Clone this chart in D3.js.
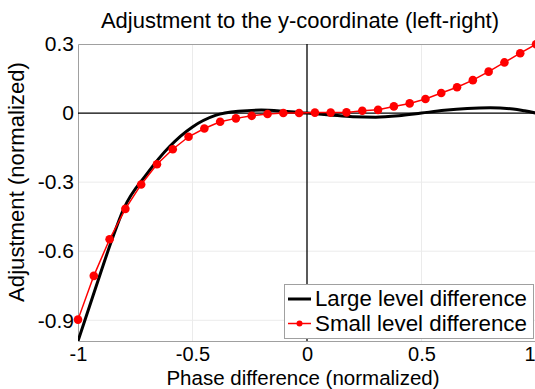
<!DOCTYPE html>
<html>
<head>
<meta charset="utf-8">
<script src="https://cdn.jsdelivr.net/npm/d3@7"></script>
<style>
  html, body { margin: 0; padding: 0; background: #fff; }
  svg { display: block; font-family: "Liberation Sans", Arial, sans-serif; }
</style>
</head>
<body>
<svg id="chart" width="535" height="389"></svg>
<script>
// ---- data ----
const titleText = "Adjustment to the y-coordinate (left-right)";
const xLabel = "Phase difference (normalized)";
const yLabel = "Adjustment (normalized)";
const seriesNames = ["Large level difference", "Small level difference"];

// Large level difference (smooth black curve)
const largeX = [-1.0, -0.95, -0.9, -0.85, -0.8, -0.7, -0.6, -0.5, -0.4, -0.3, -0.2, -0.1, 0.0, 0.1, 0.2, 0.3, 0.4, 0.5, 0.6, 0.7, 0.8, 0.9, 0.95, 1.0];
const largeY = [-0.99, -0.84, -0.69, -0.545, -0.415, -0.265, -0.145, -0.06, -0.01, 0.008, 0.013, 0.008, 0.0, -0.008, -0.016, -0.018, -0.012, 0.0, 0.012, 0.02, 0.023, 0.018, 0.01, 0.0];

// Small level difference (red markers), 30 evenly spaced samples from -1 to 1
const smallX = d3.range(30).map(k => -1 + k * 2 / 29);
const smallY = [-0.897, -0.707, -0.548, -0.416, -0.310, -0.222, -0.157, -0.103, -0.067, -0.038,
                -0.023, -0.012, -0.004, 0.0, 0.0, 0.002, 0.002, 0.003, 0.010, 0.014,
                0.029, 0.042, 0.061, 0.087, 0.112, 0.143, 0.180, 0.220, 0.260, 0.299];

const xTicks = [-1, -0.5, 0, 0.5, 1];
const yTicks = [0.3, 0, -0.3, -0.6, -0.9];
const xTickLabels = ["-1", "-0.5", "0", "0.5", "1"];
const yTickLabels = ["0.3", "0", "-0.3", "-0.6", "-0.9"];

// ---- layout ----
const svg = d3.select("#chart");
const M = { left: 78, top: 44, right: 536, bottom: 341 };
const FONT = "Liberation Sans, Arial, sans-serif";

const x = d3.scaleLinear().domain([-1, 1]).range([M.left, M.right]);
const y = d3.scaleLinear().domain([-0.99, 0.3]).range([M.bottom, M.top]);

// fit a text element's font size so its rendered width matches a target width
function fitWidth(sel, target, base) {
  sel.attr("font-size", base);
  const w = sel.node().getComputedTextLength();
  if (w > 0) sel.attr("font-size", (base * target / w).toFixed(2));
  return sel;
}

svg.append("defs").append("clipPath").attr("id", "clip")
  .append("rect").attr("x", M.left).attr("y", M.top)
  .attr("width", M.right - M.left).attr("height", M.bottom - M.top);

// grid
const grid = svg.append("g");
grid.selectAll("line.gx").data(xTicks.filter(t => t !== 0 && t !== -1 && t !== 1)).join("line")
  .attr("x1", d => x(d)).attr("x2", d => x(d)).attr("y1", M.top).attr("y2", M.bottom)
  .attr("stroke", "#ebebeb").attr("stroke-width", 1);
grid.selectAll("line.gy").data(yTicks.filter(t => t !== 0 && t !== 0.3)).join("line")
  .attr("x1", M.left).attr("x2", M.right).attr("y1", d => y(d)).attr("y2", d => y(d))
  .attr("stroke", "#ebebeb").attr("stroke-width", 1);

// frame (left, top, bottom)
svg.append("path")
  .attr("d", `M${M.right},${M.top + 0.5}H${M.left + 0.5}V${M.bottom + 0.5}H${M.right}`)
  .attr("fill", "none").attr("stroke", "#a0a0a0").attr("stroke-width", 1);

// zero lines
svg.append("line").attr("x1", M.left).attr("x2", M.right).attr("y1", y(0)).attr("y2", y(0))
  .attr("stroke", "#000").attr("stroke-width", 1.3);
svg.append("line").attr("x1", x(0)).attr("x2", x(0)).attr("y1", M.top).attr("y2", M.bottom)
  .attr("stroke", "#000").attr("stroke-width", 1.3);

// axes (labels only)
const xAxis = d3.axisBottom(x).tickValues(xTicks).tickFormat((d, i) => xTickLabels[i]).tickSize(0).tickPadding(6);
const gx = svg.append("g").attr("transform", `translate(0,${M.bottom})`).call(xAxis);
gx.select(".domain").remove();
gx.selectAll("text").attr("font-size", 20).attr("fill", "#000").attr("font-family", FONT)
  .attr("text-anchor", d => d === 1 ? "end" : "middle")
  .attr("x", d => d === 1 ? (535 - x(d)) : 0);

const yAxis = d3.axisLeft(y).tickValues(yTicks).tickFormat((d, i) => yTickLabels[i]).tickSize(0).tickPadding(4);
const gy = svg.append("g").attr("transform", `translate(${M.left},0)`).call(yAxis);
gy.select(".domain").remove();
gy.selectAll("text").attr("font-size", 21).attr("fill", "#000").attr("font-family", FONT);

// series
const plot = svg.append("g").attr("clip-path", "url(#clip)");
const largePts = largeX.map((v, i) => [v, largeY[i]]);
const smallPts = smallX.map((v, i) => [v, smallY[i]]);

plot.append("path").datum(largePts)
  .attr("d", d3.line().x(d => x(d[0])).y(d => y(d[1])).curve(d3.curveMonotoneX))
  .attr("fill", "none").attr("stroke", "#000").attr("stroke-width", 3);

plot.append("path").datum(smallPts)
  .attr("d", d3.line().x(d => x(d[0])).y(d => y(d[1])))
  .attr("fill", "none").attr("stroke", "#ff0000").attr("stroke-width", 1.5);

svg.append("g").selectAll("circle").data(smallPts).join("circle")
  .attr("cx", d => x(d[0])).attr("cy", d => y(d[1])).attr("r", 4.3)
  .attr("fill", "#ff0000");

// title and axis labels
const tt = svg.append("text").attr("x", 300).attr("y", 28).attr("text-anchor", "middle").text(titleText);
fitWidth(tt, 398, 20);
const xl = svg.append("text").attr("x", 303).attr("y", 384.5).attr("text-anchor", "middle")
  .attr("font-size", 20.5).text(xLabel);
const yl = svg.append("text").attr("transform", `translate(24,182) rotate(-90)`)
  .attr("text-anchor", "middle").text(yLabel);
fitWidth(yl, 240, 21);

// legend
const lg = svg.append("g");
lg.append("rect").attr("x", 284.5).attr("y", 284.5).attr("width", 249).attr("height", 54)
  .attr("fill", "#fff").attr("stroke", "#a0a0a0").attr("stroke-width", 1);
lg.append("line").attr("x1", 288).attr("x2", 311).attr("y1", 299).attr("y2", 299)
  .attr("stroke", "#000").attr("stroke-width", 3);
lg.append("line").attr("x1", 288).attr("x2", 311).attr("y1", 323.5).attr("y2", 323.5)
  .attr("stroke", "#ff0000").attr("stroke-width", 1.5);
lg.append("circle").attr("cx", 299.5).attr("cy", 323.5).attr("r", 3).attr("fill", "#ff0000");
const l1 = lg.append("text").attr("x", 315).attr("y", 306).text(seriesNames[0]);
fitWidth(l1, 212, 22);
const l2 = lg.append("text").attr("x", 315).attr("y", 331).text(seriesNames[1]);
fitWidth(l2, 212, 22);
</script>
</body>
</html>
